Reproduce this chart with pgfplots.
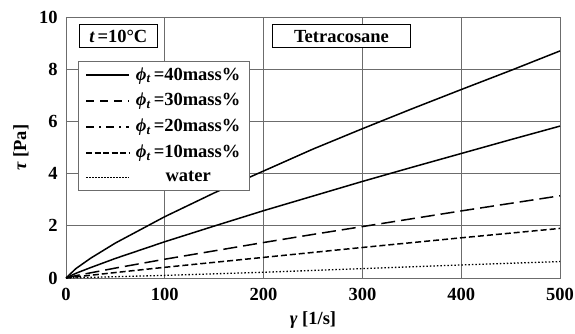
\documentclass[border=0pt]{standalone}
\usepackage{fontspec}
\setmainfont{Liberation Serif}
\usepackage{pgfplots}
\pgfplotsset{compat=1.18}
\begin{document}
\bfseries
\fontsize{18.5}{20}\selectfont
\begin{tikzpicture}
\useasboundingbox (-66pt,-55pt) rectangle (509pt,278pt);
\begin{axis}[
  scale only axis,
  width=494pt, height=261pt,
  xmin=0, xmax=500, ymin=0, ymax=10,
  xtick={0,100,...,500}, ytick={0,2,...,10},
  grid=major,
  grid style={gray!85!black, line width=0.8pt},
  axis line style={gray!85!black, line width=0.8pt},
  tick style={draw=none},
  /pgf/number format/assume math mode=true,
  ticklabel style={font=\fontsize{18.5}{20}\selectfont\bfseries},
  xticklabel style={yshift=-4pt},
  yticklabel style={xshift=-2pt},
  xlabel={{\itshape γ} [1/s]},
  ylabel={{\itshape τ} [Pa]},
  label style={font=\fontsize{18.5}{20}\selectfont\bfseries},
  xlabel style={yshift=2pt},
  ylabel style={yshift=-2pt},
  legend cell align=center,
  legend image code/.code={\draw[line width=1.5pt,#1] (0pt,0pt) -- (43pt,0pt);},
  legend style={at={(rel axis cs:0.0243,0.8314)}, anchor=north west,
    draw=gray!85!black, line width=0.8pt, font=\fontsize{18.5}{20}\selectfont\bfseries,
    row sep=6.5pt, column sep=4pt, inner xsep=7pt, inner ysep=4pt},
]
\addlegendimage{black, line width=1.7pt}
\addlegendentry{{\itshape ϕ\textsubscript{t}}\,=40mass\%}
\addlegendimage{black, dash pattern=on 8pt off 6pt}
\addlegendentry{{\itshape ϕ\textsubscript{t}}\,=30mass\%}
\addlegendimage{black, dash pattern=on 8pt off 5pt on 2pt off 5pt}
\addlegendentry{{\itshape ϕ\textsubscript{t}}\,=20mass\%}
\addlegendimage{black, dash pattern=on 6pt off 2.5pt}
\addlegendentry{{\itshape ϕ\textsubscript{t}}\,=10mass\%}
\addlegendimage{black, line width=1.3pt, dash pattern=on 1.5pt off 1.5pt}
\addlegendentry{water}

\addplot[black, line width=1.5pt, forget plot] coordinates {
(0,0) (10,0.36) (25,0.76) (50,1.34) (100,2.35) (150,3.26) (200,4.10) (250,4.94)
(300,5.72) (350,6.48) (400,7.22) (450,7.95) (500,8.70)};
\addplot[black, line width=1.5pt, forget plot] coordinates {
(0,0) (10,0.18) (25,0.40) (50,0.75) (100,1.39) (150,1.99) (200,2.58) (250,3.14)
(300,3.70) (350,4.24) (400,4.77) (450,5.30) (500,5.82)};
\addplot[black, line width=1.5pt, dash pattern=on 14pt off 6pt, forget plot] coordinates {
(0,0) (10,0.09) (50,0.38) (100,0.72) (150,1.04) (200,1.36) (250,1.67)
(300,1.97) (350,2.27) (400,2.57) (450,2.86) (500,3.15)};
\addplot[black, line width=1.5pt, dash pattern=on 6pt off 3pt, forget plot] coordinates {
(0,0) (50,0.21) (100,0.41) (200,0.79) (300,1.17) (400,1.54) (500,1.90)};
\addplot[black, line width=1.3pt, dash pattern=on 1.5pt off 2pt, forget plot] coordinates {
(0,0) (100,0.10) (200,0.22) (300,0.36) (400,0.50) (500,0.63)};

\node[draw=black, line width=1pt, anchor=north west, inner sep=2pt, fill=white,
  minimum width=78pt, minimum height=23pt, font=\fontsize{18.5}{20}\selectfont\bfseries]
  at (axis cs:13,9.73) {{\itshape t}\,=10°C};
\node[draw=black, line width=1pt, anchor=north west, inner sep=2pt, fill=white,
  minimum width=138pt, minimum height=23pt, font=\fontsize{18.5}{20}\selectfont\bfseries]
  at (axis cs:208.5,9.73) {Tetracosane};
\end{axis}
\end{tikzpicture}
\end{document}
